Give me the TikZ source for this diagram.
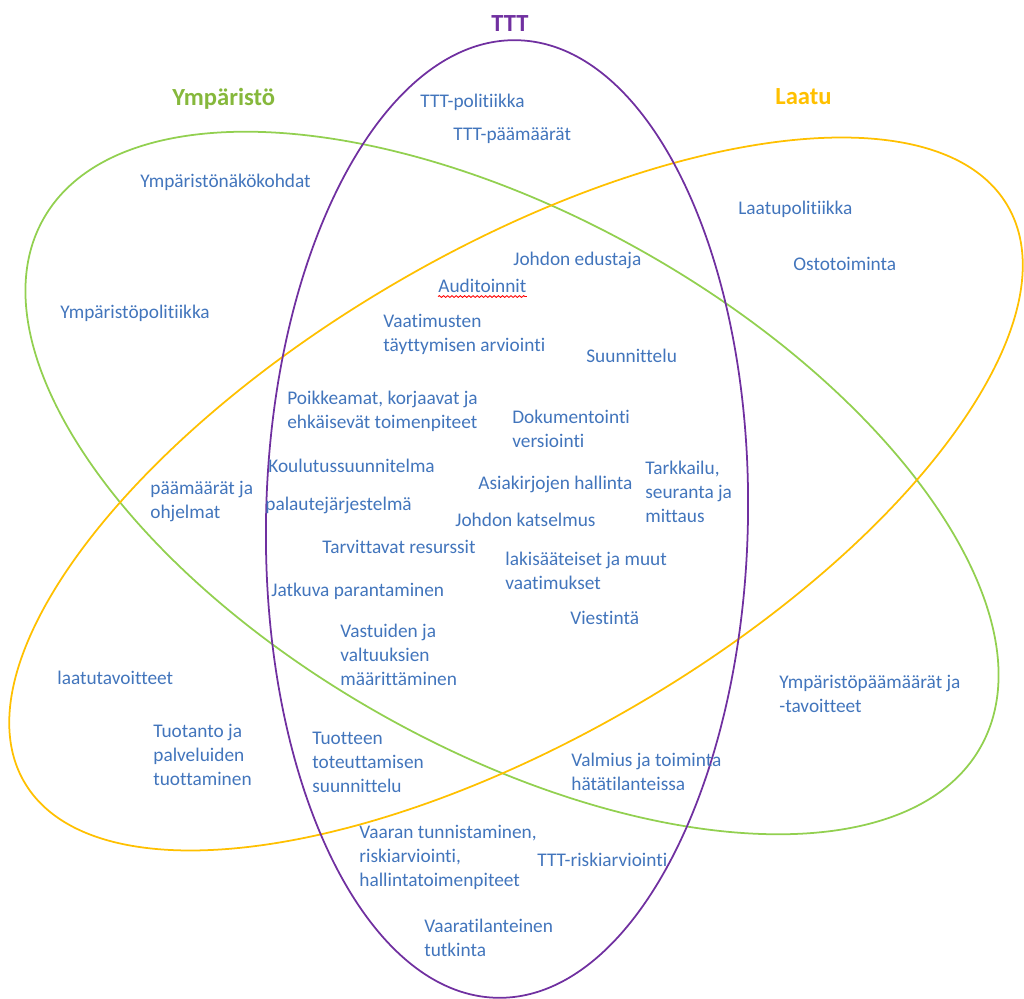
\documentclass[tikz,border=0pt]{standalone}
\usepackage{fontspec}
\setmainfont[Ligatures={NoCommon}]{Carlito}
\usetikzlibrary{decorations.pathmorphing}
\definecolor{tblue}{HTML}{4275BC}
\definecolor{envgreen}{HTML}{92D050}
\definecolor{envtext}{HTML}{86B83C}
\definecolor{qyellow}{HTML}{FFC000}
\definecolor{tttpurple}{HTML}{7030A0}
\tikzset{
  txt/.style={font=\fontsize{11}{13.6}\selectfont, text=tblue, align=left, inner sep=0pt, anchor=mid west},
  mtxt/.style={txt, anchor=north west},
  ttl/.style={font=\fontsize{14}{16}\selectfont\bfseries, inner sep=0pt, anchor=mid west},
  ring/.style={line width=1pt}
}
\begin{document}
\begin{tikzpicture}[x=0.02cm, y=-0.02cm]
\useasboundingbox (0,0) rectangle (1024,999);
% ellipses
\draw[ring, envgreen] (512,483) ellipse [x radius=10.76cm, y radius=5.32cm, rotate=-29.4];
\draw[ring, qyellow] (516,494) ellipse [x radius=11.4cm, y radius=4.86cm, rotate=30.4];
\draw[ring, tttpurple] (507,519) ellipse [x radius=4.82cm, y radius=9.58cm, rotate=-1.2];
% titles
\node[ttl, text=tttpurple, anchor=mid] (tttt) at (510,27) {TTT};
\node[ttl, text=envtext] (tymp) at (172,101) {Ympäristö};
\node[ttl, text=qyellow] (tlaatu) at (775,100) {Laatu};
% single-line texts
\node[txt] (n1) at (420,103) {TTT-politiikka};
\node[txt] (n2) at (453,136) {TTT-päämäärät};
\node[txt] (n3) at (140,183) {Ympäristönäkökohdat};
\node[txt] (n4) at (738,210) {Laatupolitiikka};
\node[txt] (n5) at (513,261) {Johdon edustaja};
\node[txt] (n6) at (793,266) {Ostotoiminta};
\node[txt] (audit) at (438,288) {Auditoinnit};
\node[txt] (n8) at (60,314) {Ympäristöpolitiikka};
\node[txt] (n9) at (586,358) {Suunnittelu};
\node[txt] (n10) at (268,468) {Koulutussuunnitelma};
\node[txt] (n11) at (478,485) {Asiakirjojen hallinta};
\node[txt] (n12) at (265,506) {palautejärjestelmä};
\node[txt] (n13) at (455,522) {Johdon katselmus};
\node[txt] (n14) at (322,549) {Tarvittavat resurssit};
\node[txt] (n15) at (271,592) {Jatkuva parantaminen};
\node[txt] (n16) at (570,620) {Viestintä};
\node[txt] (n17) at (57,680) {laatutavoitteet};
\node[txt] (n18) at (537,862) {TTT-riskiarviointi};
% spell-check squiggle
\draw[red, line width=0.5pt, decorate, decoration={snake, amplitude=0.5pt, segment length=2.4pt}]
  ([yshift=-2.2pt]audit.south west) -- ([yshift=-2.2pt]audit.south east);
% multi-line texts
\node[mtxt] (m1) at (383,314) {Vaatimusten\\täyttymisen arviointi};
\node[mtxt] (m2) at (287,391) {Poikkeamat, korjaavat ja\\ehkäisevät toimenpiteet};
\node[mtxt] (m3) at (512,410) {Dokumentointi\\versiointi};
\node[mtxt] (m4) at (645,461) {Tarkkailu,\\seuranta ja\\mittaus};
\node[mtxt] (m5) at (150,481) {päämäärät ja\\ohjelmat};
\node[mtxt] (m6) at (505,552) {lakisääteiset ja muut\\vaatimukset};
\node[mtxt] (m7) at (340,624) {Vastuiden ja\\valtuuksien\\määrittäminen};
\node[mtxt] (m8) at (779,675) {Ympäristöpäämäärät ja\\-tavoitteet};
\node[mtxt] (m9) at (153,724) {Tuotanto ja\\palveluiden\\tuottaminen};
\node[mtxt] (m10) at (312,732) {Tuotteen\\toteuttamisen\\suunnittelu};
\node[mtxt] (m11) at (571,753) {Valmius ja toiminta\\hätätilanteissa};
\node[mtxt] (m12) at (359,825) {Vaaran tunnistaminen,\\riskiarviointi,\\hallintatoimenpiteet};
\node[mtxt] (m13) at (424,919) {Vaaratilanteinen\\tutkinta};
\end{tikzpicture}
\end{document}
